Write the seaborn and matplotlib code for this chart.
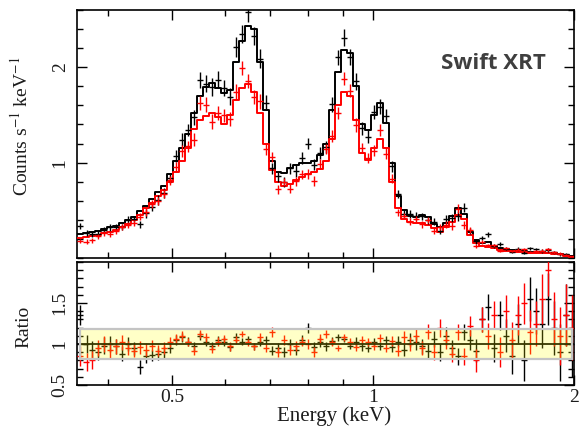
import numpy as np
import matplotlib
matplotlib.use("Agg")
import matplotlib.pyplot as plt
import seaborn as sns
import pandas as pd
from matplotlib.patches import Rectangle
from matplotlib.ticker import FixedLocator, MultipleLocator, NullFormatter

# ---------------- data ----------------
energy = [0.364, 0.372, 0.379, 0.387, 0.395, 0.404, 0.412, 0.421, 0.429, 0.438,
          0.448, 0.457, 0.467, 0.476, 0.486, 0.497, 0.507, 0.518, 0.528, 0.539,
          0.551, 0.562, 0.574, 0.586, 0.598, 0.611, 0.624, 0.637, 0.650, 0.663,
          0.677, 0.691, 0.706, 0.721, 0.736, 0.751, 0.767, 0.783, 0.799, 0.816,
          0.833, 0.850, 0.868, 0.886, 0.905, 0.924, 0.943, 0.963, 0.983, 1.003,
          1.024, 1.046, 1.068, 1.090, 1.113, 1.136, 1.160, 1.184, 1.209, 1.234,
          1.260, 1.286, 1.313, 1.341, 1.369, 1.397, 1.426, 1.456, 1.487, 1.518,
          1.549, 1.582, 1.615, 1.649, 1.683, 1.718, 1.754, 1.791, 1.828, 1.867,
          1.906, 1.945, 1.986]

model_black = [0.25, 0.26, 0.27, 0.28, 0.30, 0.32, 0.34, 0.37, 0.40, 0.43,
               0.49, 0.55, 0.62, 0.69, 0.76, 0.88, 1.02, 1.15, 1.30, 1.52,
               1.70, 1.79, 1.83, 1.78, 1.73, 1.76, 2.05, 2.28, 2.43, 2.40,
               2.05, 1.55, 1.02, 0.90, 0.89, 0.94, 0.98, 1.00, 1.00, 1.02,
               1.08, 1.20, 1.55, 1.95, 2.18, 2.15, 1.80, 1.40, 1.34, 1.50,
               1.62, 1.42, 1.00, 0.65, 0.50, 0.44, 0.43, 0.45, 0.43, 0.36,
               0.32, 0.37, 0.44, 0.52, 0.46, 0.27, 0.19, 0.16, 0.17, 0.13,
               0.11, 0.09, 0.08, 0.075, 0.07, 0.065, 0.065, 0.06, 0.055, 0.05,
               0.045, 0.03, 0.02]

model_red = [0.21, 0.22, 0.23, 0.24, 0.26, 0.27, 0.29, 0.32, 0.36, 0.40,
             0.45, 0.52, 0.58, 0.65, 0.71, 0.80, 0.90, 1.02, 1.15, 1.35,
             1.45, 1.49, 1.52, 1.48, 1.41, 1.50, 1.66, 1.78, 1.82, 1.74,
             1.52, 1.20, 0.92, 0.80, 0.76, 0.78, 0.82, 0.85, 0.88, 0.90,
             0.93, 1.02, 1.25, 1.60, 1.74, 1.70, 1.45, 1.10, 1.03, 1.15,
             1.25, 1.15, 0.80, 0.52, 0.41, 0.38, 0.37, 0.37, 0.35, 0.31,
             0.27, 0.33, 0.38, 0.45, 0.41, 0.24, 0.16, 0.13, 0.12, 0.10,
             0.085, 0.075, 0.07, 0.065, 0.06, 0.055, 0.055, 0.05, 0.048, 0.045,
             0.04, 0.025, 0.015]

ratio_black = [1.35, 1.00, 0.93, 0.90, 0.98, 1.00, 0.97, 0.88, 1.00, 0.95,
               0.72, 0.85, 0.86, 0.88, 0.90, 0.95, 1.05, 1.08, 1.03, 0.97,
               1.10, 1.02, 0.98, 1.05, 1.03, 0.96, 1.08, 1.03, 1.06, 0.97,
               1.02, 1.05, 0.92, 0.95, 0.90, 1.00, 0.93, 1.05, 1.20, 0.96,
               1.02, 0.97, 1.04, 1.08, 1.06, 0.98, 1.03, 0.97, 0.95, 1.02,
               0.98, 1.05, 0.96, 1.03, 0.93, 1.05, 1.02, 0.97, 0.92, 1.06,
               0.90, 1.10, 0.95, 0.85, 1.15, 1.05, 0.92, 1.30, 1.45, 0.95,
               1.35, 1.10, 0.85, 1.25, 0.80, 1.55, 1.40, 1.25, 1.55, 1.20,
               0.90, 1.35, 1.00]

ratio_red = [0.85, 0.78, 0.80, 0.95, 1.00, 0.93, 0.97, 1.02, 0.95, 0.92,
             0.96, 0.93, 0.98, 0.92, 0.95, 1.02, 1.06, 1.10, 1.02, 0.92,
             1.12, 1.08, 0.94, 1.03, 1.06, 0.97, 1.05, 1.12, 1.02, 0.97,
             1.08, 0.95, 1.15, 0.90, 1.05, 0.93, 0.98, 1.03, 1.00, 0.90,
             1.06, 1.12, 1.02, 0.95, 1.08, 1.03, 0.96, 1.05, 1.02, 0.98,
             1.07, 0.95, 1.04, 0.92, 1.08, 1.00, 1.10, 0.95, 1.15, 0.90,
             1.20, 1.05, 0.88, 1.15, 0.85, 1.22, 0.80, 1.30, 1.10, 1.35,
             0.90, 1.40, 1.05, 1.35, 1.50, 1.15, 1.25, 1.55, 1.90, 1.30,
             1.10, 1.35, 1.20]

ratio_err = [0.12, 0.11, 0.11, 0.10, 0.10, 0.10, 0.09, 0.09, 0.09, 0.08,
             0.08, 0.08, 0.07, 0.07, 0.07, 0.06, 0.06, 0.06, 0.05, 0.05,
             0.05, 0.05, 0.05, 0.05, 0.05, 0.05, 0.05, 0.04, 0.04, 0.04,
             0.05, 0.05, 0.06, 0.06, 0.06, 0.06, 0.06, 0.06, 0.06, 0.06,
             0.06, 0.05, 0.05, 0.04, 0.04, 0.04, 0.05, 0.05, 0.05, 0.05,
             0.05, 0.05, 0.06, 0.07, 0.08, 0.09, 0.09, 0.09, 0.09, 0.10,
             0.11, 0.11, 0.10, 0.10, 0.10, 0.12, 0.14, 0.15, 0.16, 0.17,
             0.18, 0.20, 0.22, 0.24, 0.25, 0.27, 0.28, 0.30, 0.32, 0.33,
             0.35, 0.38, 0.40]

x_major = [0.5, 1, 2]
x_major_labels = ["0.5", "1", "2"]
x_minor = [0.4, 0.6, 0.7, 0.8, 0.9]
instrument_label = "Swift XRT"

# ---------------- style ----------------
sns.set_theme(style="ticks")
plt.rcParams["font.family"] = ["Liberation Serif", "DejaVu Serif"]
plt.rcParams["mathtext.fontset"] = "stix"
TXT = "#1c1c1c"

fig = plt.figure(figsize=(5.85, 4.29), dpi=100)
ax1 = fig.add_axes([77 / 585, 1 - 258 / 429, 497 / 585, 248 / 429])
ax2 = fig.add_axes([77 / 585, 1 - 385 / 429, 497 / 585, 123 / 429])

E = np.array(energy)
mid = np.sqrt(E[:-1] * E[1:])
lo = np.concatenate([[E[0] ** 2 / mid[0]], mid])
hi = np.concatenate([mid, [E[-1] ** 2 / mid[-1]]])
xerr = np.vstack([E - lo, hi - E])
err = np.array(ratio_err)

series = [("black", np.array(model_black), np.array(ratio_black)),
          ("#ff0000", np.array(model_red), np.array(ratio_red))]

for color, model, ratio in series:
    # model as step histogram
    step = pd.DataFrame({"E": np.concatenate([lo, [hi[-1]]]),
                         "v": np.concatenate([model, [model[-1]]])})
    sns.lineplot(data=step, x="E", y="v", ax=ax1, color=color, lw=1.4,
                 drawstyle="steps-post", estimator=None, sort=False, zorder=3)
    data = model * ratio
    ax1.errorbar(E, data, xerr=xerr, yerr=model * err, fmt="none",
                 ecolor=color, elinewidth=1.0, capsize=0, zorder=4)
    ax2.errorbar(E, ratio, xerr=xerr, yerr=err, fmt="none",
                 ecolor=color, elinewidth=1.0, capsize=0, zorder=3)

# unity line and tolerance band in ratio panel
ref = pd.DataFrame({"E": [0.36, 2.0], "r": [1.0, 1.0]})
sns.lineplot(data=ref, x="E", y="r", ax=ax2, color="black", lw=1.3, zorder=4)
ax2.add_patch(Rectangle((0.364, 0.82), 1.986 - 0.364, 0.36,
                        facecolor=(1, 1, 0), alpha=0.22, edgecolor="none", zorder=6))
ax2.add_patch(Rectangle((0.364, 0.82), 1.986 - 0.364, 0.36,
                        fill=False, edgecolor="#c4c4c4", lw=1.6, zorder=7))

for ax in (ax1, ax2):
    ax.set_xscale("log")
    ax.set_xlim(0.36, 2.0)
    ax.xaxis.set_major_locator(FixedLocator(x_major))
    ax.xaxis.set_minor_locator(FixedLocator(x_minor))
    ax.xaxis.set_minor_formatter(NullFormatter())
    ax.tick_params(which="both", direction="in", top=True, right=True,
                   colors="black", labelcolor=TXT, labelsize=14, width=1.0)
    ax.tick_params(which="major", length=7)
    ax.tick_params(which="minor", length=4)
    ax.tick_params(axis="y", labelrotation=90, pad=6)
    for sp in ax.spines.values():
        sp.set_linewidth(1.2)
        sp.set_color("black")
        sp.set_visible(True)
    ax.set_xlabel("")
    ax.set_ylabel("")

ax1.set_ylim(0, 2.6)
ax1.yaxis.set_major_locator(FixedLocator([1, 2]))
ax1.set_yticklabels(["1", "2"])
ax1.yaxis.set_minor_locator(MultipleLocator(0.2))
ax1.set_xticklabels([])

ax2.set_ylim(0.5, 2.0)
ax2.yaxis.set_major_locator(FixedLocator([0.5, 1.0, 1.5]))
ax2.set_yticklabels(["0.5", "1", "1.5"])
ax2.yaxis.set_minor_locator(MultipleLocator(0.1))
ax2.set_xticklabels(x_major_labels)
ax2.tick_params(axis="x", pad=3)

for lab in ax1.get_yticklabels() + ax2.get_yticklabels():
    lab.set_va("center")

ax1.set_ylabel("Counts s$^{-1}$ keV$^{-1}$", fontsize=14, color=TXT)
ax1.yaxis.set_label_coords(-0.092, 0.53)
ax2.set_ylabel("Ratio", fontsize=14, color=TXT)
ax2.yaxis.set_label_coords(-0.09, 0.47)
ax2.set_xlabel("Energy (keV)", fontsize=15, color=TXT)
ax2.xaxis.set_label_coords(0.517, -0.175)

ax1.text(0.838, 0.785, instrument_label, transform=ax1.transAxes,
         family=["Open Sans", "DejaVu Sans"], fontweight="bold",
         fontsize=16, color="#3f3f3f", ha="center", va="center")

fig.savefig("out.png", dpi=100)
